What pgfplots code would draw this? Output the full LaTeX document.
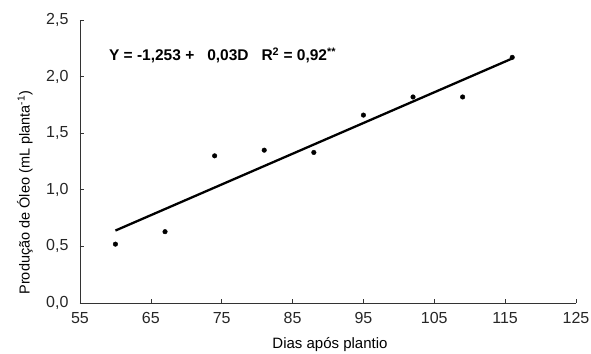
\documentclass[border=0pt]{standalone}
\usepackage{pgfplots}
\pgfplotsset{compat=1.18}
\usepackage{fontspec}
\setmainfont{Liberation Sans}
\begin{document}
\begin{tikzpicture}
\useasboundingbox (-80pt,-50pt) rectangle (511pt,303pt);
\begin{axis}[
  scale only axis, width=496pt, height=283pt,
  xmin=55, xmax=125, ymin=0, ymax=2.5,
  axis lines*=left, axis line style={-, line width=0.9pt, black!80},
  xtick={55,65,...,125}, ytick={0,0.5,...,2.5},
  tick align=inside, major tick length=4pt,
  tick style={black!80, line width=0.7pt},
  /pgf/number format/assume math mode=true,
  /pgf/number format/use comma,
  /pgf/number format/fixed, /pgf/number format/fixed zerofill,
  yticklabel style={/pgf/number format/precision=1, font=\fontsize{16}{18}\selectfont, text=black!85, xshift=-8pt},
  xticklabel style={font=\fontsize{16}{18}\selectfont, text=black!85, yshift=-6pt},
  xticklabel={\pgfmathprintnumber[fixed,precision=0]{\tick}},
  xlabel={Dias após plantio},
  ylabel={Produção de Óleo (mL planta\textsuperscript{-1})},
  xlabel style={font=\fontsize{15}{17}\selectfont, at={(axis description cs:0.504,0)}, anchor=center, yshift=-42pt},
  ylabel style={font=\fontsize{14.5}{16}\selectfont, at={(axis description cs:0,0.39)}, anchor=center, rotate=0, yshift=55pt},
  clip=false,
]
\addplot[only marks, mark=*, mark size=2.3pt, black] coordinates {
  (60,0.52) (67,0.63) (74,1.30) (81,1.35) (88,1.33) (95,1.66) (102,1.82) (109,1.82) (116,2.17)
};
\addplot[black, line width=2.3pt] coordinates {(60,0.64) (116,2.16)};
\node[font=\bfseries\fontsize{15.5}{17}\selectfont, anchor=west] at (axis cs:58.6,2.19)
  {Y = -1,253 +\ \ \ 0,03D\ \ \ R\textsuperscript{2} = 0,92\textsuperscript{**}};
\end{axis}
\end{tikzpicture}
\end{document}
